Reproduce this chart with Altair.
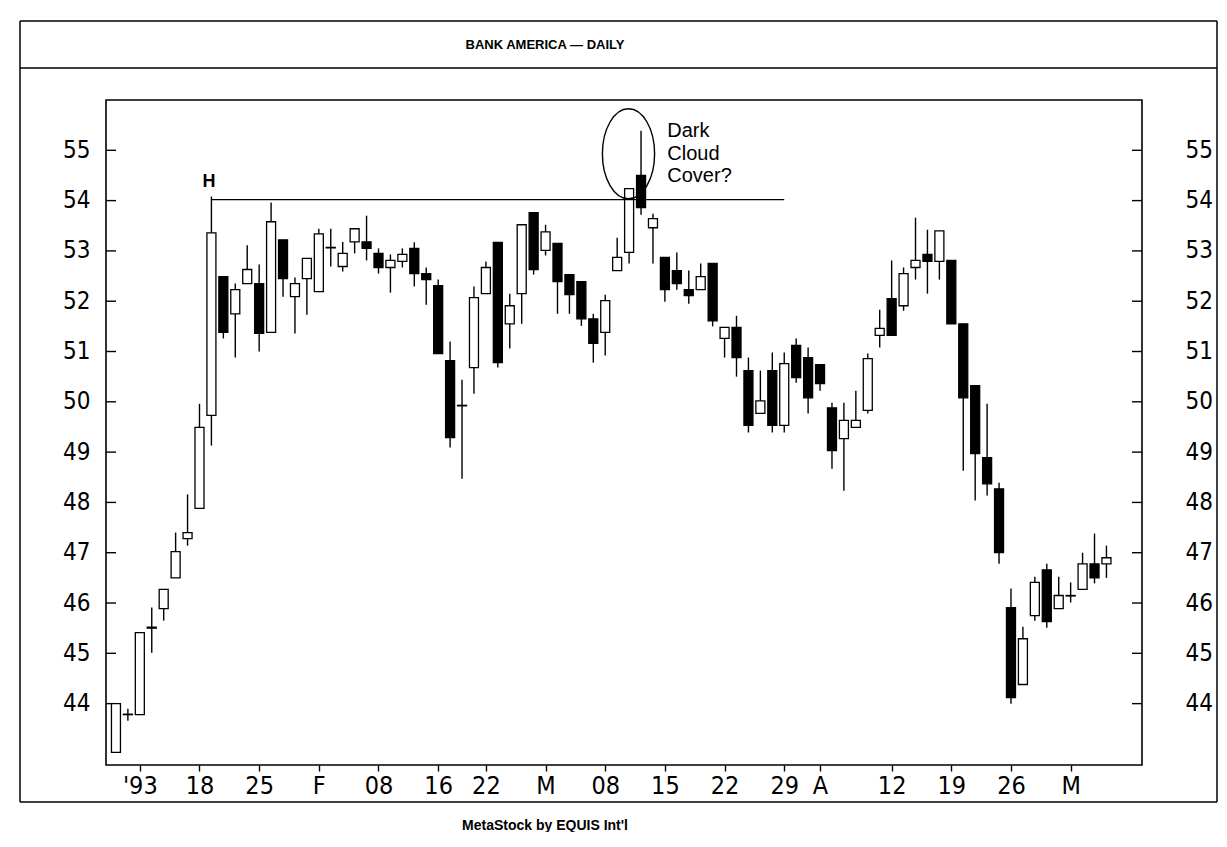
import json
import altair as alt
import pandas as pd

# ---------------- data ----------------
opens = [43.03, 43.78, 43.78, 45.50, 45.89, 46.50, 47.28, 47.88, 49.73, 52.49,
         51.75, 52.35, 52.35, 51.38, 53.22, 52.09, 52.45, 52.19, 53.06, 52.69,
         53.18, 53.18, 52.95, 52.67, 52.79, 53.05, 52.55, 52.31, 50.82, 49.92,
         50.68, 52.15, 53.17, 51.55, 52.15, 53.76, 53.01, 53.15, 52.53, 52.39,
         51.65, 51.38, 52.61, 52.97, 54.50, 53.46, 52.87, 52.61, 52.23, 52.23,
         52.75, 51.26, 51.48, 50.62, 49.77, 50.62, 49.53, 51.12, 50.88, 50.74,
         49.88, 49.27, 49.49, 49.83, 51.32, 52.05, 51.91, 52.67, 52.93, 52.79,
         52.81, 51.55, 50.32, 48.89, 48.27, 45.91, 44.38, 45.75, 46.66, 45.89,
         46.14, 46.27, 46.78, 46.78]
highs = [44.00, 43.90, 45.41, 45.91, 46.27, 47.40, 48.16, 49.96, 54.08, 52.49,
         52.35, 53.11, 52.73, 53.96, 53.22, 52.47, 52.85, 53.44, 53.44, 53.18,
         53.44, 53.70, 53.05, 52.93, 53.05, 53.17, 52.67, 52.43, 51.20, 50.44,
         52.29, 52.79, 53.17, 52.15, 53.52, 53.76, 53.52, 53.15, 52.53, 52.39,
         51.75, 52.13, 53.26, 54.24, 55.39, 53.74, 52.87, 52.97, 52.61, 52.75,
         52.75, 51.48, 51.71, 50.88, 50.62, 50.98, 50.98, 51.26, 51.08, 50.74,
         49.98, 49.98, 50.22, 50.96, 51.83, 52.81, 52.67, 53.66, 53.42, 53.40,
         52.81, 51.55, 50.32, 49.96, 48.39, 46.29, 45.53, 46.52, 46.78, 46.52,
         46.41, 47.00, 47.38, 47.14]
lows = [43.03, 43.66, 43.78, 45.01, 45.65, 46.50, 47.14, 47.88, 49.13, 51.26,
        50.88, 52.35, 51.00, 51.38, 52.09, 51.36, 51.73, 52.19, 52.69, 52.59,
        52.95, 52.81, 52.55, 52.17, 52.67, 52.29, 51.93, 50.96, 49.09, 48.47,
        50.16, 52.15, 50.68, 51.06, 51.55, 52.53, 52.91, 51.75, 51.75, 51.51,
        50.78, 50.92, 52.61, 52.75, 53.72, 52.75, 51.99, 52.23, 51.95, 52.23,
        51.50, 50.88, 50.50, 49.39, 49.77, 49.39, 49.39, 50.38, 49.77, 50.22,
        48.67, 48.23, 49.49, 49.77, 51.08, 51.32, 51.81, 52.43, 52.15, 52.43,
        51.55, 48.63, 48.04, 48.14, 46.78, 44.00, 44.38, 45.65, 45.51, 45.89,
        46.01, 46.27, 46.39, 46.50]
closes = [44.00, 43.79, 45.41, 45.52, 46.27, 47.02, 47.40, 49.49, 53.36, 51.38,
          52.23, 52.63, 51.36, 53.58, 52.45, 52.35, 52.85, 53.34, 53.07, 52.95,
          53.44, 53.05, 52.67, 52.81, 52.93, 52.55, 52.43, 50.96, 49.29, 49.93,
          52.07, 52.67, 50.78, 51.91, 53.52, 52.63, 53.38, 52.39, 52.13, 51.65,
          51.16, 52.01, 52.87, 54.24, 53.86, 53.64, 52.23, 52.35, 52.11, 52.49,
          51.61, 51.48, 50.88, 49.53, 50.02, 49.53, 50.76, 50.48, 50.08, 50.36,
          49.03, 49.63, 49.63, 50.86, 51.46, 51.32, 52.55, 52.81, 52.79, 53.40,
          51.55, 50.08, 48.97, 48.37, 47.00, 44.12, 45.29, 46.41, 45.63, 46.15,
          46.15, 46.78, 46.50, 46.90]
days = list(range(len(opens)))  # trading-day sequence

tick_days = [2, 7, 12, 17, 22, 27, 31, 36, 41, 46, 51, 56, 59, 65, 70, 75, 80]
tick_labels = ["'93", "18", "25", "F", "08", "16", "22", "M", "08", "15",
               "22", "29", "A", "12", "19", "26", "M"]
price_ticks = [44, 45, 46, 47, 48, 49, 50, 51, 52, 53, 54, 55]

h_start, h_end, h_level = [8], [56], [54.02]
h_label, h_label_day, h_label_price = ["H"], [8], [54.28]
note_lines = ["Dark", "Cloud", "Cover?"]
note_prices = [55.39, 54.93, 54.48]
note_day = 46.2
circle_day, circle_price = [42.95], [54.93]

title_text = "BANK AMERICA \u2014 DAILY"
footer_text = "MetaStock by EQUIS Int'l"

# ---------------- layout ----------------
W, H = 1036, 665
PAD_L, PAD_T, PAD_R, PAD_B = 98, 92, 76, 67
NUM_FONT = "Liberation Sans Narrow, DejaVu Sans Condensed, Arial Narrow, sans-serif"
TXT_FONT = "Liberation Sans, Arial, Helvetica, sans-serif"

xscale = alt.Scale(domain=[-0.415, 85.56], nice=False, zero=False)
yscale = alt.Scale(domain=[42.78, 56.0], nice=False, zero=False)

candles = pd.DataFrame({"day": days, "open": opens, "high": highs,
                        "low": lows, "close": closes})

label_expr = f"{json.dumps(tick_labels)}[indexof({json.dumps(tick_days)}, datum.value)]"


def x_axis():
    return alt.Axis(values=tick_days, labelExpr=label_expr, title=None, grid=False,
                    domain=False, ticks=True, tickSize=6, tickWidth=1.4,
                    tickColor="black", labelFont=NUM_FONT, labelFontSize=25,
                    labelColor="black", labelPadding=2, labelOverlap=False,
                    labelFlush=False, orient="bottom")


y_left = alt.Axis(values=price_ticks, title=None, grid=False, domain=False,
                  ticks=False, labelFont=NUM_FONT, labelFontSize=24,
                  labelColor="black", labelPadding=16, orient="left")
y_right = alt.Axis(values=price_ticks, title=None, grid=False, domain=False,
                   ticks=False, labelFont=NUM_FONT, labelFontSize=24,
                   labelColor="black", labelPadding=43, orient="right",
                   labelAlign="left")

one = alt.Data(values=[{"k": 1}])


def hline(x1, x2, y, w=1.5):
    return alt.Chart(one).mark_rule(color="black", strokeWidth=w).encode(
        x=alt.value(x1), x2=alt.value(x2), y=alt.value(y))


def vline(x, y1, y2, w=1.5):
    return alt.Chart(one).mark_rule(color="black", strokeWidth=w).encode(
        x=alt.value(x), y=alt.value(y1), y2=alt.value(y2))


# page coords -> plot coords: x - 106, y - 100
frame = [
    hline(-86, 1111, -79),
    hline(-86, 1111, -32),
    hline(-86, 1111, 702),
    vline(-86, -79, 702),
    vline(1111, -79, 702),
]

title = alt.Chart(one).mark_text(font=TXT_FONT, fontSize=13, fontWeight="bold",
                                 color="black", align="center", baseline="middle").encode(
    x=alt.value(439), y=alt.value(-55), text=alt.value(title_text))
footer = alt.Chart(one).mark_text(font=TXT_FONT, fontSize=14, fontWeight="bold",
                                  color="black", align="center", baseline="middle").encode(
    x=alt.value(439), y=alt.value(726), text=alt.value(footer_text))

ticks_df = pd.DataFrame({"price": price_ticks})
left_ticks = alt.Chart(ticks_df).mark_rule(color="black", strokeWidth=1.4).encode(
    x=alt.value(0), x2=alt.value(10),
    y=alt.Y("price:Q", scale=yscale, axis=y_left))
right_ticks = alt.Chart(ticks_df).mark_rule(color="black", strokeWidth=1.4).encode(
    x=alt.value(W - 10), x2=alt.value(W),
    y=alt.Y("price:Q", scale=yscale, axis=y_right))

wicks = alt.Chart(candles).mark_rule(color="black", strokeWidth=1.4).encode(
    x=alt.X("day:Q", scale=xscale, axis=x_axis()),
    y=alt.Y("low:Q", scale=yscale, axis=None),
    y2="high:Q")

bodies = alt.Chart(candles).mark_bar(size=9, stroke="black", strokeWidth=1.3).encode(
    x=alt.X("day:Q", scale=xscale, axis=x_axis()),
    y=alt.Y("open:Q", scale=yscale, axis=None),
    y2="close:Q",
    fill=alt.condition("datum.close < datum.open", alt.value("black"), alt.value("white")))

hdf = pd.DataFrame({"start": h_start, "end": h_end, "level": h_level})
h_rule = alt.Chart(hdf).mark_rule(color="black", strokeWidth=1.4).encode(
    x=alt.X("start:Q", scale=xscale, axis=x_axis()), x2="end:Q",
    y=alt.Y("level:Q", scale=yscale, axis=None))

hl = pd.DataFrame({"t": h_label, "day": h_label_day, "price": h_label_price})
h_text = alt.Chart(hl).mark_text(font=TXT_FONT, fontSize=18, fontWeight="bold",
                                 align="left", baseline="alphabetic", dx=-9,
                                 color="black").encode(
    x=alt.X("day:Q", scale=xscale, axis=x_axis()),
    y=alt.Y("price:Q", scale=yscale, axis=None), text="t:N")

notes = pd.DataFrame({"t": note_lines, "price": note_prices,
                      "day": [note_day] * len(note_lines)})
note_text = alt.Chart(notes).mark_text(font=TXT_FONT, fontSize=20, align="left",
                                       baseline="middle", color="black").encode(
    x=alt.X("day:Q", scale=xscale, axis=x_axis()),
    y=alt.Y("price:Q", scale=yscale, axis=None), text="t:N")

ellipse_path = ("M0,-1 C0.32,-1 0.58,-0.552 0.58,0 C0.58,0.552 0.32,1 0,1 "
                "C-0.32,1 -0.58,0.552 -0.58,0 C-0.58,-0.552 -0.32,-1 0,-1 Z")
cdf = pd.DataFrame({"day": circle_day, "price": circle_price})
circle = alt.Chart(cdf).mark_point(shape=ellipse_path, size=8100, filled=False,
                                   stroke="black", strokeWidth=1.4, opacity=1).encode(
    x=alt.X("day:Q", scale=xscale, axis=x_axis()),
    y=alt.Y("price:Q", scale=yscale, axis=None))

chart = alt.layer(
    *frame, title, footer, left_ticks, right_ticks, wicks, bodies,
    h_rule, h_text, note_text, circle
).properties(
    width=W, height=H,
    padding={"left": PAD_L, "top": PAD_T, "right": PAD_R, "bottom": PAD_B},
    autosize=alt.AutoSizeParams(type="none"),
    background="white",
).resolve_axis(y="independent", x="shared").configure_view(stroke="black", strokeWidth=1.6)

chart.save("out.html", embed_options={"renderer": "svg", "actions": False})
